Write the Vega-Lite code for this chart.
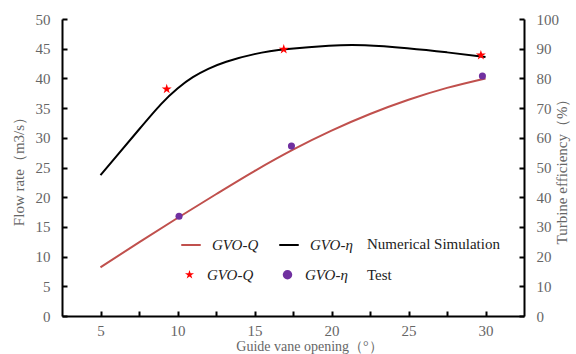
{
  "$schema": "https://vega.github.io/schema/vega-lite/v6.json",
  "width": 462,
  "height": 297,
  "autosize": {"type": "none"},
  "padding": {"left": 62, "top": 19, "right": 52, "bottom": 38},
  "background": "white",
  "config": {
    "view": {"stroke": null},
    "font": "Liberation Serif",
    "axis": {
      "grid": false,
      "domainColor": "#000000",
      "domainWidth": 2,
      "tickColor": "#000000",
      "tickWidth": 2,
      "tickSize": -5,
      "labelFont": "Liberation Serif",
      "labelFontSize": 15,
      "labelColor": "#666666",
      "titleFont": "Liberation Serif",
      "titleFontSize": 15,
      "titleFontWeight": "normal",
      "titleColor": "#666666"
    },
    "legend": {
      "labelFont": "Liberation Serif",
      "labelFontSize": 15,
      "labelFontStyle": "italic",
      "labelColor": "#222222",
      "titleFont": "Liberation Serif",
      "titleFontSize": 15,
      "titleFontWeight": "normal",
      "titleColor": "#222222"
    }
  },
  "encoding": {
    "x": {
      "field": "x",
      "type": "quantitative",
      "scale": {"domain": [2.5, 32.5], "nice": false, "zero": false},
      "axis": {
        "title": "Guide vane opening（°）",
        "titleFontSize": 14,
        "values": [5, 7.5, 10, 12.5, 15, 17.5, 20, 22.5, 25, 27.5, 30],
        "labelExpr": "datum.value % 5 == 0 ? datum.label : ''",
        "labelPadding": 12,
        "titleY": 23,
        "titleX": 247
      }
    }
  },
  "layer": [
    {
      "encoding": {
        "y": {
          "field": "v",
          "type": "quantitative",
          "scale": {"domain": [0, 50], "nice": false},
          "axis": {
            "orient": "left",
            "title": "Flow rate（m3/s）",
            "values": [0, 5, 10, 15, 20, 25, 30, 35, 40, 45, 50],
            "labelPadding": 17,
            "titlePadding": 9
          }
        }
      },
      "layer": [
        {
          "data": {
            "values": [
              {"x": 5, "v": 8.2, "sim": "GVO-Q"},
              {"x": 7.5, "v": 12.4, "sim": "GVO-Q"},
              {"x": 10, "v": 16.5, "sim": "GVO-Q"},
              {"x": 12.5, "v": 20.5, "sim": "GVO-Q"},
              {"x": 15, "v": 24.4, "sim": "GVO-Q"},
              {"x": 17.5, "v": 28.0, "sim": "GVO-Q"},
              {"x": 20, "v": 31.2, "sim": "GVO-Q"},
              {"x": 22.5, "v": 34.0, "sim": "GVO-Q"},
              {"x": 25, "v": 36.4, "sim": "GVO-Q"},
              {"x": 27.5, "v": 38.4, "sim": "GVO-Q"},
              {"x": 30, "v": 40.0, "sim": "GVO-Q"}
            ]
          },
          "mark": {"type": "line", "interpolate": "monotone", "strokeWidth": 2},
          "encoding": {
            "stroke": {
              "field": "sim",
              "type": "nominal",
              "scale": {"domain": ["GVO-Q", "GVO-η"], "range": ["#C0504D", "#000000"]},
              "legend": {
                "orient": "none",
                "legendX": 118,
                "legendY": 215,
                "direction": "horizontal",
                "title": "Numerical Simulation",
                "titleOrient": "right",
                "titlePadding": 14,
                "symbolType": "stroke",
                "symbolSize": 380,
                "symbolStrokeWidth": 2,
                "columnPadding": 16,
                "labelOffset": 10
              }
            }
          }
        },
        {
          "data": {
            "values": [
              {"x": 10.1, "v": 16.8, "test": "η test"},
              {"x": 17.4, "v": 28.6, "test": "η test"},
              {"x": 29.8, "v": 40.4, "test": "η test"}
            ]
          },
          "mark": {"type": "point", "filled": true, "size": 50, "opacity": 1},
          "encoding": {
            "fill": {"field": "test", "type": "nominal"},
            "shape": {"field": "test", "type": "nominal"}
          }
        }
      ]
    },
    {
      "encoding": {
        "y": {
          "field": "v",
          "type": "quantitative",
          "scale": {"domain": [0, 100], "nice": false},
          "axis": {
            "orient": "right",
            "title": "Turbine efficiency（%）",
            "values": [0, 10, 20, 30, 40, 50, 60, 70, 80, 90, 100],
            "labelPadding": 17,
            "titlePadding": 11,
            "titleAngle": -90
          }
        }
      },
      "layer": [
        {
          "data": {
            "values": [
              {"x": 5, "v": 47.4, "sim": "GVO-η"},
              {"x": 6, "v": 53.6, "sim": "GVO-η"},
              {"x": 7.5, "v": 62.8, "sim": "GVO-η"},
              {"x": 9, "v": 72.0, "sim": "GVO-η"},
              {"x": 10, "v": 76.8, "sim": "GVO-η"},
              {"x": 11, "v": 80.6, "sim": "GVO-η"},
              {"x": 12, "v": 83.3, "sim": "GVO-η"},
              {"x": 13, "v": 85.5, "sim": "GVO-η"},
              {"x": 15, "v": 88.4, "sim": "GVO-η"},
              {"x": 17, "v": 89.9, "sim": "GVO-η"},
              {"x": 20, "v": 91.2, "sim": "GVO-η"},
              {"x": 22, "v": 91.4, "sim": "GVO-η"},
              {"x": 25, "v": 90.2, "sim": "GVO-η"},
              {"x": 27.5, "v": 88.8, "sim": "GVO-η"},
              {"x": 30, "v": 87.2, "sim": "GVO-η"}
            ]
          },
          "mark": {"type": "line", "interpolate": "basis", "strokeWidth": 2},
          "encoding": {
            "stroke": {"field": "sim", "type": "nominal"}
          }
        },
        {
          "data": {
            "values": [
              {"x": 9.3, "v": 76.4, "test": "Q test"},
              {"x": 16.9, "v": 89.8, "test": "Q test"},
              {"x": 29.7, "v": 87.8, "test": "Q test"}
            ]
          },
          "mark": {"type": "point", "filled": true, "size": 110, "strokeWidth": 0, "opacity": 1},
          "encoding": {
            "fill": {
              "field": "test",
              "type": "nominal",
              "scale": {"domain": ["Q test", "η test"], "range": ["#FF0000", "#7030A0"]},
              "legend": {
                "orient": "none",
                "legendX": 120,
                "legendY": 248,
                "direction": "horizontal",
                "title": "Test",
                "titleOrient": "right",
                "titlePadding": 19,
                "columnPadding": 26,
                "labelOffset": 10,
                "symbolSize": 90,
                "symbolStrokeWidth": 0,
                "labelExpr": "datum.label == 'Q test' ? 'GVO-Q' : 'GVO-η'"
              }
            },
            "shape": {
              "field": "test",
              "type": "nominal",
              "scale": {"domain": ["Q test", "η test"], "range": ["M0,-1L0.2245,-0.309L0.951,-0.309L0.363,0.118L0.588,0.809L0,0.382L-0.588,0.809L-0.363,0.118L-0.951,-0.309L-0.2245,-0.309Z", "circle"]},
              "legend": {
                "orient": "none",
                "legendX": 120,
                "legendY": 248,
                "direction": "horizontal",
                "title": "Test",
                "titleOrient": "right",
                "titlePadding": 19,
                "columnPadding": 26,
                "labelOffset": 10,
                "symbolSize": 90,
                "symbolStrokeWidth": 0,
                "labelExpr": "datum.label == 'Q test' ? 'GVO-Q' : 'GVO-η'"
              }
            }
          }
        }
      ]
    }
  ],
  "resolve": {"scale": {"y": "independent"}}
}
